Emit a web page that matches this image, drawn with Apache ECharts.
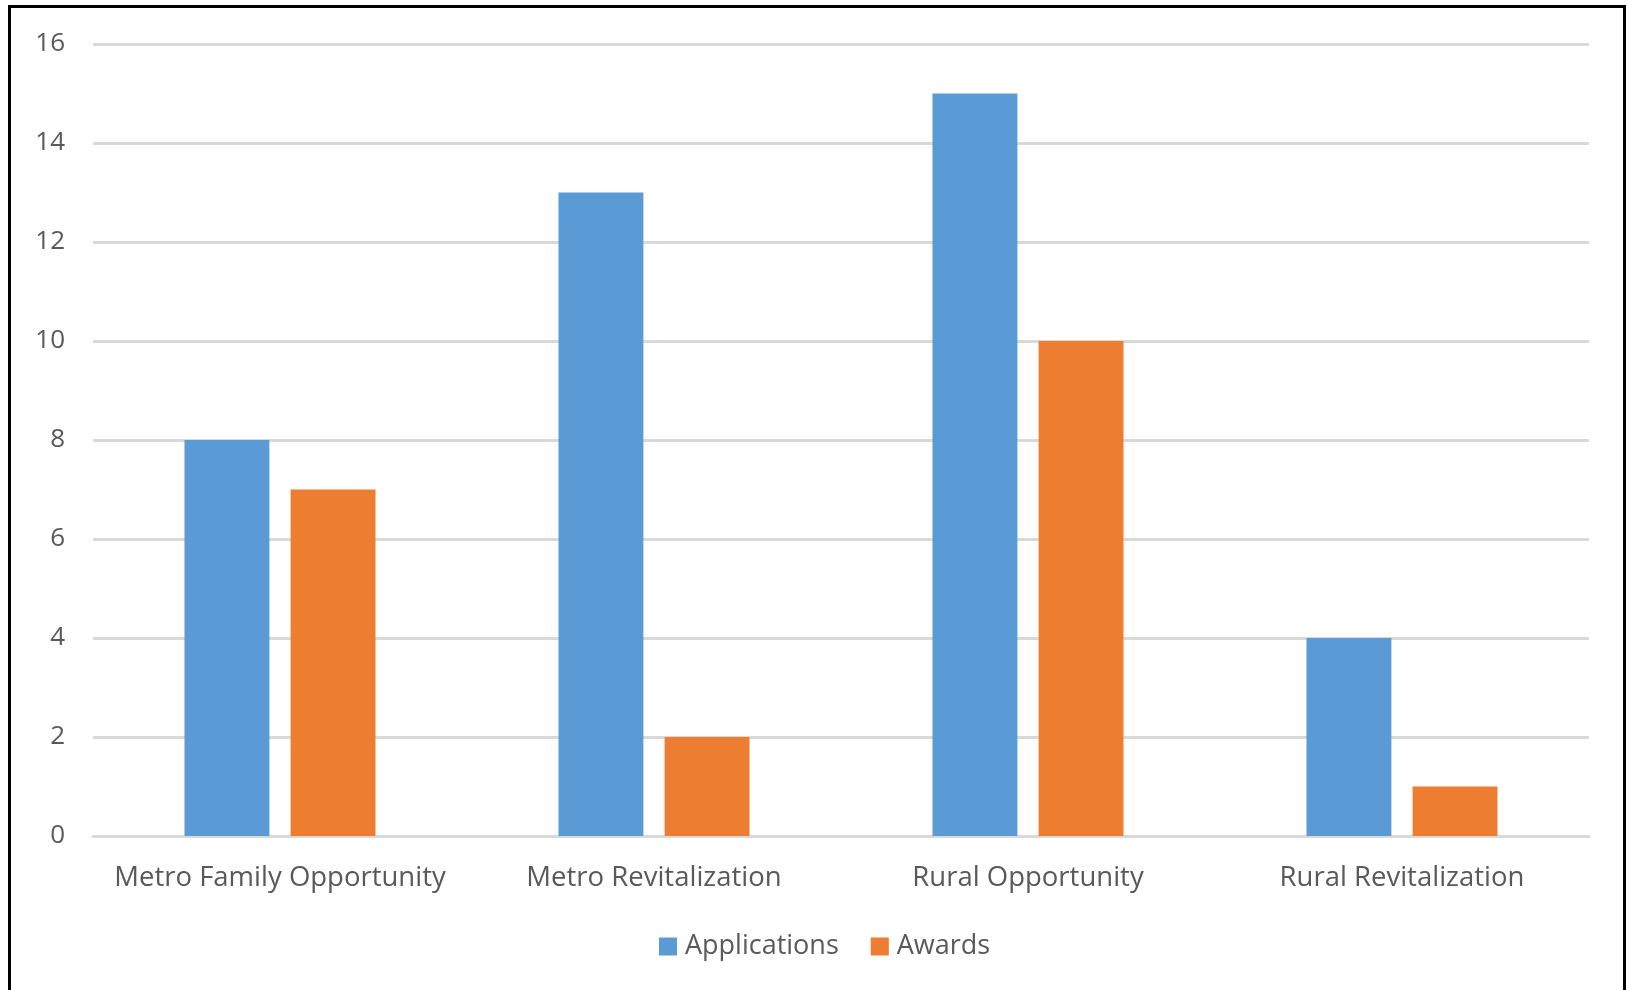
<!DOCTYPE html>
<html>
<head>
<meta charset="utf-8">
<script src="https://cdn.jsdelivr.net/npm/echarts@6/dist/echarts.min.js"></script>
<style>
  html, body { margin: 0; padding: 0; background: #fff; overflow: hidden; }
  #chart { width: 1628px; height: 990px; }
  #frame {
    position: absolute; left: 8px; top: 5px; width: 1612px; height: 1000px;
    border: 3px solid #000; pointer-events: none;
  }
</style>
</head>
<body>
<div id="chart"></div>
<div id="frame"></div>
<script>
const categories = ["Metro Family Opportunity", "Metro Revitalization", "Rural Opportunity", "Rural Revitalization"]
const applications = [8, 13, 15, 4]
const awards = [7, 2, 10, 1]

const chart = echarts.init(document.getElementById("chart"))
const font = "'Open Sans', Lato, sans-serif"

const option = {
  animation: false,
  textStyle: { fontFamily: font },
  color: ["#5B9BD5", "#ED7D31"],
  grid: { left: 93, right: 39, top: 44, bottom: 154 },
  legend: {
    bottom: 25,
    left: 654,
    icon: "rect",
    itemWidth: 18,
    itemHeight: 18,
    itemGap: 32,
    textStyle: { fontSize: 27, color: "#595959", fontFamily: font, padding: [0, 0, 0, 3] },
    data: ["Applications", "Awards"]
  },
  xAxis: {
    type: "category",
    data: categories,
    axisLine: { show: true, lineStyle: { color: "#d9d9d9", width: 3 } },
    axisTick: { show: false },
    axisLabel: { fontSize: 27.5, color: "#595959", margin: 28, interval: 0 }
  },
  yAxis: {
    type: "value",
    min: 0,
    max: 16,
    interval: 2,
    axisLine: { show: false },
    axisTick: { show: false },
    axisLabel: { fontSize: 26, color: "#595959", margin: 28 },
    splitLine: { lineStyle: { color: "#d9d9d9", width: 3 } }
  },
  series: [
    {
      name: "Applications",
      type: "bar",
      data: applications,
      barWidth: "22.7%",
      barGap: "25%"
    },
    {
      name: "Awards",
      type: "bar",
      data: awards,
      barWidth: "22.7%",
      barGap: "25%"
    }
  ]
}

chart.setOption(option)
</script>
</body>
</html>
